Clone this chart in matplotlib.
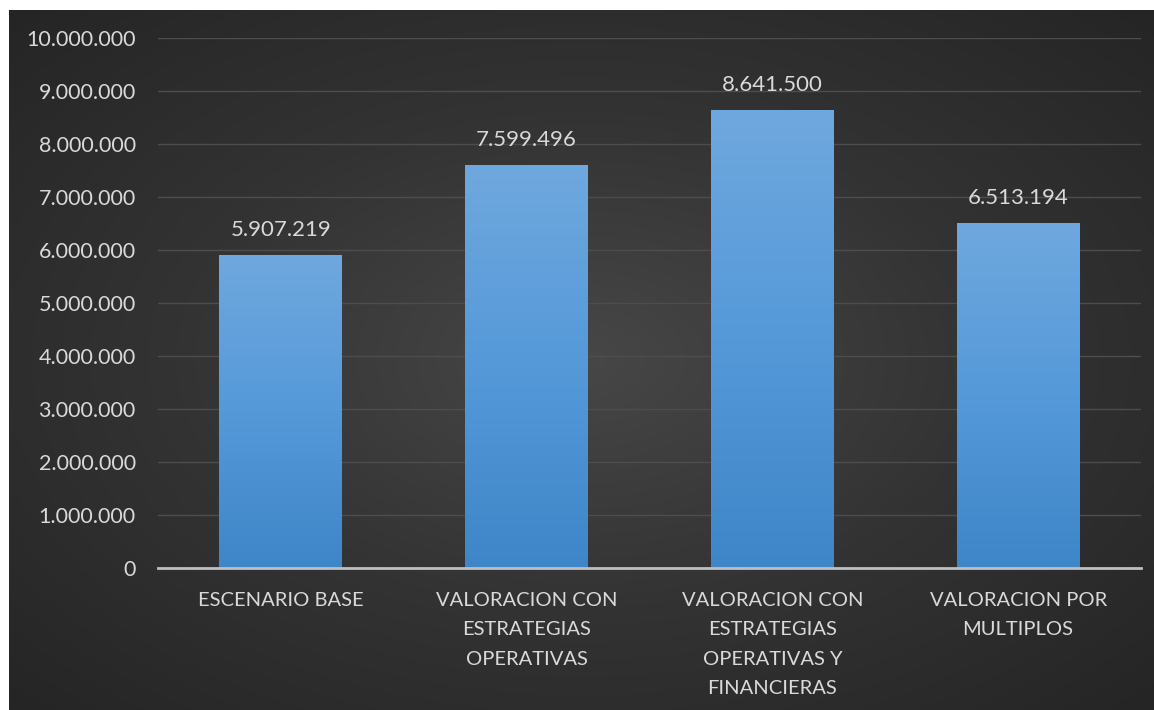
import numpy as np
import matplotlib.pyplot as plt
from matplotlib.colors import LinearSegmentedColormap

# data
categories = ['ESCENARIO BASE',
              'VALORACION CON\nESTRATEGIAS\nOPERATIVAS',
              'VALORACION CON\nESTRATEGIAS\nOPERATIVAS Y\nFINANCIERAS',
              'VALORACION POR\nMULTIPLOS']
values = [5907219, 7599496, 8641500, 6513194]
y_ticks = [0, 1000000, 2000000, 3000000, 4000000, 5000000,
           6000000, 7000000, 8000000, 9000000, 10000000]


def fmt_es(v):
    # thousands separator with dots, like the spanish excel output
    return f'{int(v):,}'.replace(',', '.')


plt.rcParams['font.family'] = ['Lato', 'DejaVu Sans']
text_col = '#d9d9d9'

fig = plt.figure(figsize=(11.54, 7.10), dpi=100)
fig.patch.set_facecolor('white')

# dark radial background, leaves a thin white strip at left/top
bg = fig.add_axes([9 / 1154, 0, 1 - 9 / 1154, 1 - 10 / 710])
yy, xx = np.mgrid[-1:1:300j, -1:1:500j]
r = np.sqrt(xx ** 2 + yy ** 2) / np.sqrt(2)
bg_cmap = LinearSegmentedColormap.from_list('bg', ['#474747', '#333333', '#252525'])
bg.imshow(r, cmap=bg_cmap, aspect='auto', extent=[0, 1, 0, 1])
bg.set_axis_off()

ax = fig.add_axes([158 / 1154, 1 - 568 / 710, (1141 - 158) / 1154, (568 - 38) / 710])
ax.patch.set_alpha(0)

x = np.arange(len(categories))
bars = ax.bar(x, values, width=0.5, color='#5b9bd5', zorder=2)

# vertical gradient on each bar
bar_cmap = LinearSegmentedColormap.from_list('bar', ['#3e86c8', '#5599d9', '#6fa8de'])
grad = np.linspace(0, 1, 256).reshape(-1, 1)
for b in bars:
    x0, w, h = b.get_x(), b.get_width(), b.get_height()
    im = ax.imshow(grad, cmap=bar_cmap, aspect='auto', origin='lower',
                   extent=[x0, x0 + w, 0, h], zorder=3)
    im.set_clip_path(b)
    ax.text(x0 + w / 2, h + 280000, fmt_es(h), ha='center', va='bottom',
            color=text_col, fontsize=16, zorder=4)

ax.set_xlim(-0.5, len(categories) - 0.5)
ax.set_ylim(0, 10000000)
ax.set_yticks(y_ticks)
ax.set_yticklabels([fmt_es(v) for v in y_ticks])
ax.set_xticks(x)
ax.set_xticklabels(categories, linespacing=1.9)

ax.tick_params(axis='both', length=0, colors=text_col)
ax.tick_params(axis='y', pad=16, labelsize=15.5)
ax.tick_params(axis='x', pad=17, labelsize=14.5)
ax.grid(axis='y', color='#4d4d4d', linewidth=1, zorder=0)

for side in ['top', 'right', 'left']:
    ax.spines[side].set_visible(False)
ax.spines['bottom'].set_color('#bfbfbf')
ax.spines['bottom'].set_linewidth(2)
ax.spines['bottom'].set_zorder(5)

fig.savefig('out.png', dpi=100, facecolor=fig.get_facecolor())
